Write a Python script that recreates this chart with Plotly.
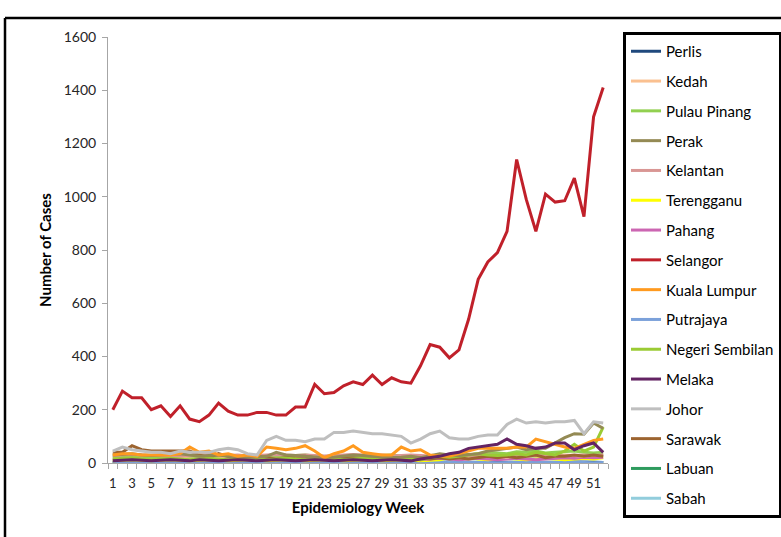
import plotly.graph_objects as go

weeks = list(range(1, 53))

perlis = [2,3,2,2,3,2,2,1,2,3,2,2,1,2,2,3,2,2,1,2,2,3,2,2,2,3,2,2,1,2,2,3,2,2,3,2,2,3,2,2,3,2,2,3,2,2,3,2,4,3,2,2]
kedah = [20,22,25,20,18,22,20,25,20,18,22,25,20,18,22,20,25,22,20,24,20,22,18,20,24,22,20,25,22,20,18,22,20,24,22,25,20,22,25,28,24,22,26,25,28,24,26,30,28,25,30,28]
pulau_pinang = [25,28,30,25,22,25,28,30,26,25,28,30,26,24,22,25,28,26,25,28,30,26,24,25,28,30,26,25,28,30,26,24,22,25,28,30,32,30,35,40,38,35,42,40,45,38,40,42,45,40,38,40]
perak = [30,32,35,30,28,30,32,35,30,25,28,30,25,22,20,22,25,40,30,28,25,22,20,22,25,30,28,25,22,20,22,25,20,28,35,30,28,32,35,45,50,55,60,50,55,55,75,95,110,108,150,130]
kelantan = [28,30,32,30,28,30,28,26,28,30,32,30,28,30,26,28,30,32,30,28,30,28,26,28,30,32,30,28,30,26,28,30,28,26,28,30,28,26,28,30,28,26,28,30,28,30,28,26,28,30,28,30]
terengganu = [8,10,12,10,8,10,12,10,8,10,12,10,8,10,12,10,8,10,12,10,8,10,12,10,8,10,12,10,8,10,12,10,8,10,12,20,25,22,15,12,15,18,15,12,15,18,15,12,15,18,15,20]
pahang = [12,15,18,15,12,15,18,15,12,15,18,15,12,15,18,15,12,15,18,15,12,15,18,15,12,15,18,15,12,15,18,15,12,15,18,15,12,15,18,15,12,15,18,15,12,15,18,20,18,22,20,22]
selangor = [200,270,245,245,200,215,175,215,165,155,180,225,195,180,180,190,190,180,180,210,210,295,260,265,290,305,295,330,295,320,305,300,365,445,435,395,425,540,690,755,790,870,1140,990,870,1010,980,985,1070,925,1300,1410]
kuala_lumpur = [30,35,35,30,30,30,30,35,60,40,45,30,35,25,30,25,60,55,50,55,65,45,20,35,45,65,40,35,30,30,60,45,50,30,25,25,35,45,55,55,55,55,60,60,90,80,70,60,55,70,85,90]
putrajaya = [2,1,2,3,2,1,2,2,3,2,1,2,2,3,2,1,2,2,3,2,1,2,2,3,2,1,2,2,3,2,1,2,2,3,2,1,2,2,3,2,1,2,2,3,2,1,2,2,3,2,1,2]
negeri_sembilan = [15,18,20,15,12,15,18,15,12,15,18,15,12,15,18,15,12,15,18,15,12,15,18,15,12,15,18,15,12,15,18,15,12,20,25,22,25,30,35,30,28,30,35,30,40,35,30,45,70,45,60,135]
melaka = [8,10,12,10,8,10,12,10,8,12,10,8,10,12,10,8,10,12,10,8,10,12,10,8,10,12,10,8,10,12,10,8,15,20,25,35,40,55,60,65,70,90,70,65,55,60,75,75,50,65,75,40]
johor = [45,60,50,45,40,40,35,45,40,40,40,50,55,50,35,30,85,100,85,85,80,90,90,115,115,120,115,110,110,105,100,75,90,110,120,95,90,90,100,105,105,145,165,150,155,150,155,155,160,110,155,150]
sarawak = [40,40,65,50,45,45,45,45,45,30,20,35,25,20,20,25,20,15,20,25,25,20,20,15,20,20,15,15,15,20,15,15,20,15,20,15,20,15,20,25,20,25,20,25,30,20,25,25,30,25,30,25]
labuan = [3,4,3,2,3,4,3,2,3,4,3,2,3,4,3,2,3,4,3,2,3,4,3,2,3,4,3,2,3,4,3,2,3,4,3,2,3,4,3,2,3,4,3,2,3,4,3,2,3,4,3,2]
sabah = [20,22,18,15,20,22,18,12,10,8,10,12,15,12,10,8,10,8,10,12,15,12,10,8,10,12,10,8,10,12,10,8,10,12,15,12,15,18,20,25,22,20,18,15,20,22,25,20,22,25,24,25]

names = ["Perlis","Kedah","Pulau Pinang","Perak","Kelantan","Terengganu","Pahang","Selangor",
         "Kuala Lumpur","Putrajaya","Negeri Sembilan","Melaka","Johor","Sarawak","Labuan","Sabah"]
series = [perlis,kedah,pulau_pinang,perak,kelantan,terengganu,pahang,selangor,
          kuala_lumpur,putrajaya,negeri_sembilan,melaka,johor,sarawak,labuan,sabah]
colors = ["#1F497D","#FAC090","#92D050","#948A54","#D99694","#FFFF00","#CC66B2","#C0202A",
          "#FF9A1F","#7BA1DA","#9BCB34","#632363","#BFBFBF","#9C6430","#2E9B5E","#92CDDC"]

# draw order: small series first, Selangor on top
draw_order = [14,0,9,15,5,6,1,2,4,13,10,3,8,11,12,7]

fig = go.Figure()
for i in draw_order:
    fig.add_trace(go.Scatter(
        x=weeks, y=series[i], mode="lines", name=names[i],
        line=dict(color=colors[i], width=3),
        legendrank=i + 1, legendgroup=names[i],
    ))

font_family = "Lato, 'Open Sans', sans-serif"
minor_vals = [w + 0.5 for w in range(0, 53)]

fig.update_layout(
    width=781, height=537,
    margin=dict(l=108, r=173, t=37, b=74),
    paper_bgcolor="white", plot_bgcolor="white",
    font=dict(family=font_family, size=13, color="#262626"),
    showlegend=True,
    legend=dict(
        xref="container", yref="container",
        x=623/781, y=1 - 32/537, xanchor="left", yanchor="top",
        bordercolor="black", borderwidth=3, bgcolor="white",
        font=dict(family=font_family, size=15, color="black"),
        traceorder="grouped", tracegroupgap=7.3,
        itemwidth=30, maxheight=520,
    ),
    xaxis=dict(
        range=[0.5, 52.5],
        tickmode="array", tickvals=list(range(1, 53, 2)), ticktext=[str(w) for w in range(1, 53, 2)],
        ticks="", showgrid=False, zeroline=False,
        showline=True, linecolor="#A6A6A6", linewidth=1,
        tickfont=dict(size=13, color="#262626"),
        ticklabelstandoff=8,
        minor=dict(tickvals=minor_vals, ticks="outside", ticklen=5, tickcolor="#A6A6A6", showgrid=False),
        title=dict(text="<b>Epidemiology Week</b>", font=dict(size=15, color="black"), standoff=12),
    ),
    yaxis=dict(
        range=[0, 1600], dtick=200, showgrid=False, zeroline=False,
        showline=True, linecolor="#A6A6A6", linewidth=1,
        ticks="outside", ticklen=5, tickcolor="#A6A6A6",
        tickfont=dict(size=14, color="#262626"),
        ticklabelstandoff=3,
        title=dict(text="<b>Number of Cases</b>", font=dict(size=15, color="black"), standoff=8),
    ),
)

# outer chart frame (left and top edges visible)
def px_x(p):
    return (p - 108) / 500
def px_y(p):
    return (463 - p) / 426

fig.add_shape(type="line", xref="paper", yref="paper",
              x0=px_x(5), x1=px_x(5), y0=px_y(18), y1=px_y(545),
              line=dict(color="black", width=2.5))
fig.add_shape(type="line", xref="paper", yref="paper",
              x0=px_x(5), x1=px_x(790), y0=px_y(18), y1=px_y(18),
              line=dict(color="black", width=2.5))

fig.write_html("out.html", config={"displayModeBar": False},
               post_script="document.body.style.margin='0';")
